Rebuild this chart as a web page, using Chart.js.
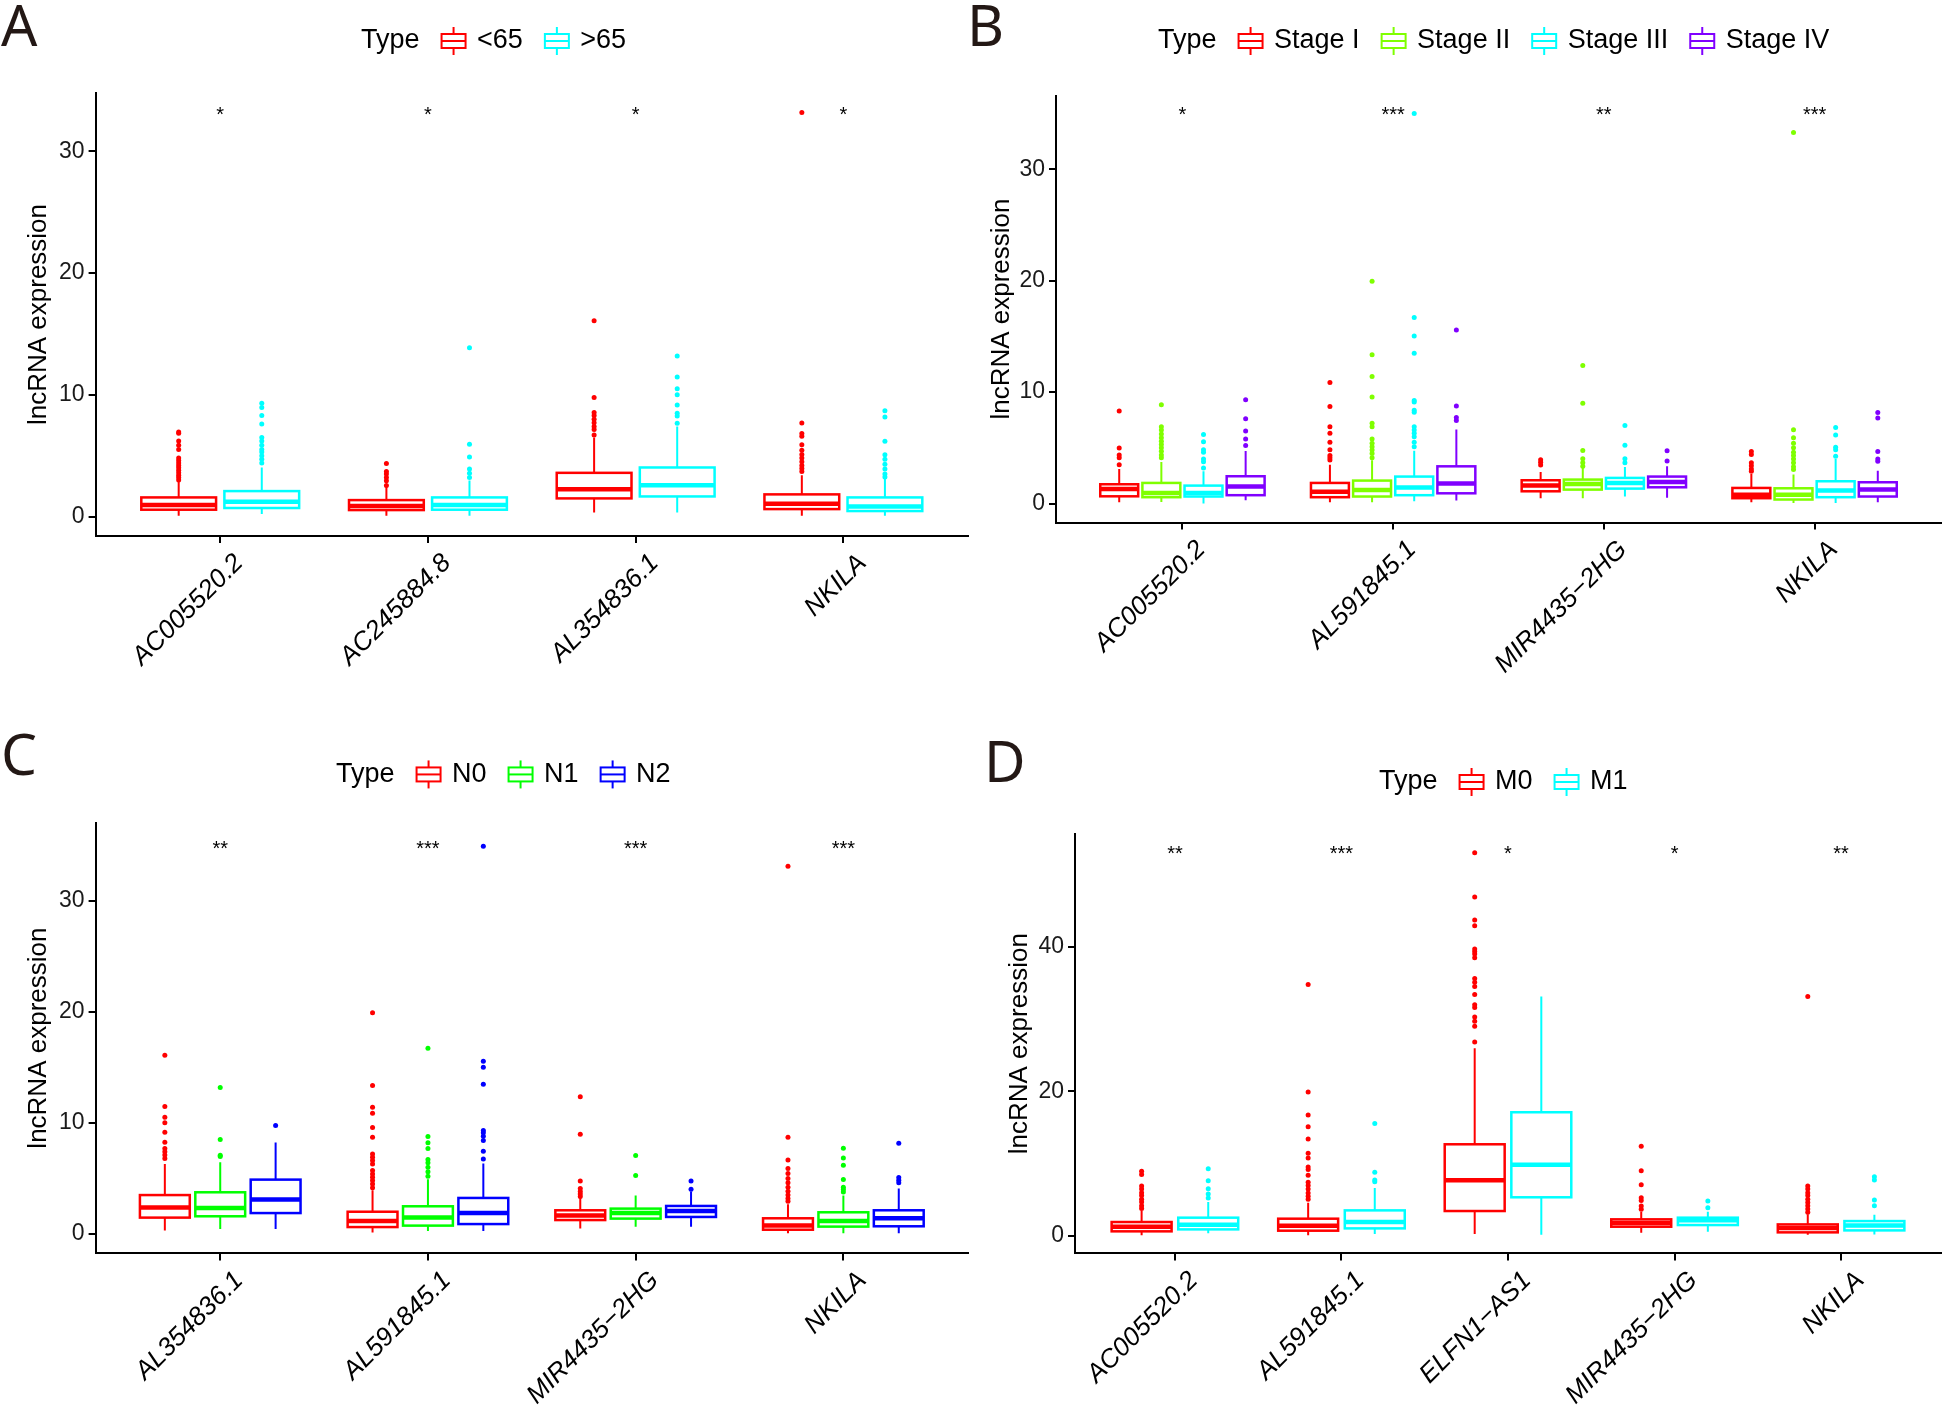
<!DOCTYPE html>
<html>
<head>
<meta charset="utf-8">
<title>lncRNA expression by clinical group</title>
<script src="https://cdn.jsdelivr.net/npm/chart.js@4.4.1/dist/chart.umd.min.js"></script>
<style>
  html, body { margin: 0; padding: 0; background: #fff; }
  #page { position: relative; width: 1946px; height: 1407px; overflow: hidden; }
  .panel { position: absolute; }
  .tag { position: absolute; font-family: 'Noto Sans', sans-serif; font-size: 57px; line-height: 1; color: #231815; }
</style>
</head>
<body>
<div id="page">
  <div class="panel" style="left:0px;top:0px;width:973px;height:703px"><canvas id="chartA"></canvas></div>
  <div class="panel" style="left:973px;top:0px;width:973px;height:703px"><canvas id="chartB"></canvas></div>
  <div class="panel" style="left:0px;top:703px;width:973px;height:704px"><canvas id="chartC"></canvas></div>
  <div class="panel" style="left:973px;top:703px;width:973px;height:704px"><canvas id="chartD"></canvas></div>
  <div class="tag" style="left:1px;top:-4px">A</div>
  <div class="tag" style="left:967px;top:-4px">B</div>
  <div class="tag" style="left:1px;top:725px">C</div>
  <div class="tag" style="left:984px;top:732px">D</div>
</div>
<script>
// === Panel A: age ===
const genesA = ['AC005520.2', 'AC245884.8', 'AL354836.1', 'NKILA'];
const groupsA = ['<65', '>65'];
// per group, per gene: [lower whisker, Q1, median, Q3, upper whisker]
const boxesA = [
  [[0.07, 0.56, 0.94, 1.57, 2.88], [0.07, 0.53, 0.86, 1.35, 2.44], [0.34, 1.49, 2.25, 3.59, 6.49], [0.07, 0.61, 1.05, 1.82, 3.40]],
  [[0.20, 0.70, 1.21, 2.09, 4.03], [0.07, 0.56, 0.94, 1.57, 2.97], [0.34, 1.65, 2.58, 4.03, 7.39], [0.07, 0.45, 0.83, 1.57, 3.13]]
];
const outliersA = [
  [[6.95, 6.85, 6.2, 5.85, 5.5, 4.8, 4.6, 4.4, 4.2, 4.0, 3.8, 3.6, 3.4, 3.2, 3.0],
   [4.36, 3.7, 3.5, 3.2, 2.95, 2.55],
   [16.08, 9.77, 8.54, 8.3, 8.0, 7.7, 7.4, 7.15, 6.7],
   [33.2, 7.69, 6.82, 6.6, 5.9, 5.45, 5.1, 4.8, 4.5, 4.2, 3.95, 3.7]],
  [[9.3, 8.95, 8.3, 7.6, 6.5, 6.2, 5.86, 5.5, 5.3, 5.0, 4.7, 4.4],
   [13.87, 5.94, 4.9, 3.9, 3.55, 3.2],
   [13.2, 11.46, 10.5, 10.0, 9.17, 8.48, 8.25, 7.66],
   [8.7, 8.18, 6.19, 5.07, 4.7, 4.3, 3.9, 3.5, 3.25]]
];
const starsA = ['*', '*', '*', '*'];
const yTicksA = [0, 10, 20, 30];

// === Panel B: stage ===
const genesB = ['AC005520.2', 'AL591845.1', 'MIR4435\u22122HG', 'NKILA'];
const groupsB = ['Stage I', 'Stage II', 'Stage III', 'Stage IV'];
const boxesB = [
  [[0.12, 0.65, 1.31, 1.73, 3.10], [0.12, 0.57, 1.05, 1.85, 3.49], [0.48, 1.10, 1.61, 2.09, 2.84], [0.12, 0.48, 0.80, 1.40, 2.66]],
  [[0.15, 0.57, 0.95, 1.85, 3.73], [0.12, 0.63, 1.22, 2.06, 3.88], [0.48, 1.25, 1.76, 2.15, 3.22], [0.06, 0.36, 0.80, 1.37, 2.60]],
  [[0.00, 0.63, 0.95, 1.61, 2.90], [0.20, 0.75, 1.43, 2.42, 4.74], [0.63, 1.34, 1.85, 2.30, 3.28], [0.06, 0.57, 1.16, 2.00, 4.00]],
  [[0.30, 0.75, 1.52, 2.45, 4.71], [0.27, 0.92, 1.79, 3.34, 6.65], [0.51, 1.46, 1.94, 2.42, 3.34], [0.12, 0.63, 1.25, 1.91, 2.95]]
];
const outliersB = [
  [[8.3, 4.98, 4.36, 4.1, 3.49],
   [10.86, 8.71, 6.9, 6.3, 5.5, 4.83, 4.3, 4.1, 3.9],
   [3.94, 3.7, 3.45],
   [4.66, 4.4, 3.65, 3.4, 3.1, 2.9]],
  [[8.86, 6.9, 6.6, 6.24, 5.9, 5.6, 5.3, 5.0, 4.7, 4.35, 4.1],
   [19.94, 13.34, 11.4, 9.55, 7.2, 6.9, 5.8, 5.4, 5.1, 4.8, 4.5, 4.1],
   [12.38, 9.0, 4.77, 4.03, 3.65, 3.35],
   [33.3, 6.62, 5.9, 5.4, 5.0, 4.6, 4.3, 4.0, 3.65, 3.3, 3.05]],
  [[6.2, 5.55, 4.83, 4.6, 4.0, 3.75, 3.2],
   [35.0, 16.7, 15.04, 13.49, 9.25, 9.1, 8.36, 8.2, 6.9, 6.6, 6.3, 6.0, 5.5, 5.1],
   [7.01, 5.22, 4.03, 3.67],
   [6.83, 6.15, 5.05, 4.83, 4.25]],
  [[9.31, 7.6, 6.5, 5.8, 5.2],
   [15.58, 8.75, 7.73, 7.45],
   [4.74, 3.82],
   [8.18, 7.67, 4.68, 4.0, 3.8]]
];
const starsB = ['*', '***', '**', '***'];
const yTicksB = [0, 10, 20, 30];

// === Panel C: N stage ===
const genesC = ['AL354836.1', 'AL591845.1', 'MIR4435\u22122HG', 'NKILA'];
const groupsC = ['N0', 'N1', 'N2'];
const boxesC = [
  [[0.32, 1.47, 2.37, 3.50, 6.30], [0.14, 0.62, 1.16, 2.00, 3.93], [0.49, 1.25, 1.67, 2.13, 3.27], [0.06, 0.38, 0.77, 1.41, 2.67]],
  [[0.44, 1.59, 2.34, 3.75, 6.45], [0.27, 0.75, 1.47, 2.49, 4.92], [0.64, 1.38, 1.89, 2.28, 3.47], [0.06, 0.66, 1.16, 1.95, 3.47]],
  [[0.44, 1.88, 3.09, 4.89, 8.22], [0.27, 0.89, 1.88, 3.24, 6.33], [0.64, 1.53, 2.07, 2.52, 3.81], [0.06, 0.69, 1.41, 2.13, 4.10]]
];
const outliersC = [
  [[16.09, 11.47, 10.5, 10.0, 9.15, 8.25, 7.7, 7.4, 7.1, 6.8],
   [19.9, 13.36, 11.4, 10.86, 9.58, 8.7, 7.2, 6.9, 6.6, 6.3, 5.7, 5.4, 5.1, 4.8, 4.5, 4.15],
   [12.34, 8.97, 4.77, 4.08, 3.83, 3.6, 3.38],
   [33.1, 8.7, 6.66, 5.9, 5.45, 5.0, 4.6, 4.2, 3.85, 3.5, 3.2, 2.95]],
  [[13.18, 8.5, 7.08, 6.97],
   [16.72, 8.76, 8.2, 7.7, 6.7, 6.4, 6.0, 5.6, 5.2],
   [7.05, 5.25],
   [7.71, 6.84, 6.18, 4.89, 4.2, 4.0, 3.78]],
  [[9.75],
   [34.9, 15.55, 15.0, 13.48, 9.3, 9.1, 8.8, 8.4, 7.45, 6.75],
   [4.77, 4.02],
   [8.16, 5.07, 4.83, 4.6]]
];
const starsC = ['**', '***', '***', '***'];
const yTicksC = [0, 10, 20, 30];

// === Panel D: M stage ===
const genesD = ['AC005520.2', 'AL591845.1', 'ELFN1\u2212AS1', 'MIR4435\u22122HG', 'NKILA'];
const groupsD = ['M0', 'M1'];
const boxesD = [
  [[0.10, 0.65, 1.29, 1.94, 3.50], [0.10, 0.74, 1.43, 2.40, 4.62], [0.28, 3.46, 7.70, 12.69, 25.98], [0.46, 1.29, 1.80, 2.31, 3.36], [0.18, 0.51, 1.10, 1.61, 3.00]],
  [[0.38, 0.92, 1.57, 2.54, 4.70], [0.29, 1.06, 1.94, 3.55, 6.64], [0.18, 5.36, 9.87, 17.12, 33.12], [0.60, 1.52, 2.20, 2.54, 3.36], [0.20, 0.78, 1.47, 2.07, 2.95]]
];
const outliersD = [
  [[8.95, 8.5, 6.92, 6.5, 6.0, 5.6, 5.1, 4.7, 4.2, 3.8],
   [34.8, 19.93, 16.75, 15.1, 13.43, 11.45, 10.8, 9.56, 9.2, 8.4, 7.45, 7.0, 6.5, 5.95, 5.5, 5.1],
   [53.0, 46.9, 43.7, 42.9, 39.7, 39.35, 39.0, 38.5, 35.6, 35.1, 34.5, 33.4, 32.0, 31.6, 30.3, 29.7, 29.0, 26.85],
   [12.42, 9.04, 7.1, 5.3, 4.9, 4.15, 3.7],
   [33.12, 6.92, 6.5, 6.0, 5.6, 5.1, 4.65, 4.2, 3.75, 3.3]],
  [[9.32, 7.66, 6.55, 5.8, 5.25],
   [15.55, 8.82, 7.76, 7.5],
   [],
   [4.84, 3.9],
   [8.2, 7.76, 5.0, 4.2]]
];
const starsD = ['**', '***', '*', '*', '**'];
const yTicksD = [0, 20, 40];

// === Chart setup ===
Chart.defaults.font.family = "'Liberation Sans', Arial, sans-serif";
Chart.defaults.color = '#000';

const DODGE = 0.8;      // total width taken by the boxes of one gene
const BOX_FILL = 0.9;   // share of each dodge slot used by the box
const LEGEND_FONT = 27;
const KEY_SLOT = 20;    // legend box width reserved by Chart.js (the key image is a bit wider)
const LEGEND_PAD = 24;

// legend key drawn like a small boxplot
function makeKey(color) {
  const c = document.createElement('canvas');
  c.width = 30;
  c.height = 30;
  const k = c.getContext('2d');
  if (color) {
    k.strokeStyle = color;
    k.lineWidth = 2;
    k.beginPath();
    k.moveTo(15, 1); k.lineTo(15, 8);
    k.moveTo(15, 22); k.lineTo(15, 29);
    k.moveTo(3, 15); k.lineTo(27, 15);
    k.stroke();
    k.strokeRect(3, 8, 24, 14);
  }
  return c;
}

// boxes, whiskers and medians, drawn under the outlier points
const boxPlugin = {
  id: 'boxes',
  beforeDatasetsDraw(chart, args, opts) {
    const { ctx, scales: { x, y } } = chart;
    const n = opts.stats.length;
    const slot = DODGE / n;
    const half = (x.getPixelForValue(slot * BOX_FILL) - x.getPixelForValue(0)) / 2;
    ctx.save();
    opts.stats.forEach((series, g) => {
      series.forEach((s, i) => {
        const xc = x.getPixelForValue(i + 1 + (g - (n - 1) / 2) * slot);
        const [lo, q1, med, q3, hi] = s.map(v => y.getPixelForValue(v));
        ctx.strokeStyle = opts.colors[g];
        ctx.lineWidth = 2;
        ctx.beginPath();
        ctx.moveTo(xc, hi); ctx.lineTo(xc, q3);
        ctx.moveTo(xc, q1); ctx.lineTo(xc, lo);
        ctx.stroke();
        ctx.fillStyle = '#fff';
        ctx.fillRect(xc - half, q3, half * 2, q1 - q3);
        ctx.lineWidth = 2.5;
        ctx.strokeRect(xc - half, q3, half * 2, q1 - q3);
        ctx.lineWidth = 4.5;
        ctx.beginPath();
        ctx.moveTo(xc - half, med); ctx.lineTo(xc + half, med);
        ctx.stroke();
      });
    });
    ctx.restore();
  },
  afterDatasetsDraw(chart, args, opts) {
    const { ctx, scales: { x, y } } = chart;
    ctx.save();
    ctx.fillStyle = '#000';
    ctx.font = "20px 'Liberation Sans', Arial, sans-serif";
    ctx.textAlign = 'center';
    ctx.textBaseline = 'alphabetic';
    opts.stars.forEach((s, i) => {
      ctx.fillText(s, x.getPixelForValue(i + 1), y.getPixelForValue(opts.starY) + 11);
    });
    ctx.restore();
  }
};

// puts the legend row where ggplot had it (beside the panel letter)
const legendPlace = {
  id: 'legendPlace',
  afterLayout(chart, args, opts) {
    const lg = chart.legend;
    if (!lg || !lg.lineWidths) return;
    const startX = (lg.left + LEGEND_PAD + lg.right - lg.lineWidths[0]) / 2;
    const dx = opts.x - (startX + KEY_SLOT + LEGEND_FONT / 2);
    const dy = opts.y - (lg.top + LEGEND_PAD + LEGEND_FONT / 2);
    lg.left += dx; lg.right += dx;
    lg.top += dy; lg.bottom += dy;
  }
};

function drawPanel(id, genes, groups, colors, stats, outliers, stars, yTicks, cfg) {
  const n = groups.length;
  const slot = DODGE / n;
  const datasets = groups.map((name, g) => ({
    label: name,
    data: outliers[g].flatMap((vals, i) => vals.map(v => ({ x: i + 1 + (g - (n - 1) / 2) * slot, y: v }))),
    backgroundColor: colors[g],
    borderWidth: 0,
    pointRadius: 2.5,
    pointHoverRadius: 3
  }));

  new Chart(document.getElementById(id), {
    type: 'scatter',
    data: { datasets: datasets },
    plugins: [boxPlugin, legendPlace],
    options: {
      responsive: true,
      maintainAspectRatio: false,
      animation: false,
      layout: { padding: { left: cfg.padLeft, right: 5, top: cfg.padTop, bottom: 0 } },
      plugins: {
        tooltip: { enabled: false },
        boxes: { stats: stats, colors: colors, stars: stars, starY: cfg.starY },
        legendPlace: { x: cfg.legendX, y: cfg.legendY },
        legend: {
          position: 'top',
          onClick: null,
          labels: {
            usePointStyle: true,
            pointStyleWidth: KEY_SLOT,
            padding: LEGEND_PAD,
            color: '#000',
            font: { size: LEGEND_FONT },
            generateLabels: chart => [
              { text: 'Type', pointStyle: makeKey(null), lineWidth: 0, hidden: false }
            ].concat(chart.data.datasets.map((ds, i) => ({
              text: ds.label,
              pointStyle: makeKey(ds.backgroundColor),
              lineWidth: 0,
              hidden: false,
              datasetIndex: i
            })))
          }
        }
      },
      scales: {
        x: {
          type: 'linear',
          min: 0.4,
          max: genes.length + 0.6,
          afterBuildTicks: s => { s.ticks = genes.map((g, i) => ({ value: i + 1 })); },
          afterFit: s => { s.height = cfg.xAxisHeight; s.paddingLeft = 0; s.paddingRight = 0; },
          ticks: {
            autoSkip: false,
            minRotation: 45,
            maxRotation: 45,
            padding: 5,
            labelOffset: 19,
            color: '#000',
            font: { size: 26, style: 'italic' },
            callback: v => genes[Math.round(v) - 1]
          },
          grid: { display: true, drawOnChartArea: false, tickLength: 7, color: '#000', lineWidth: 2 },
          border: { display: true, color: '#000', width: 2 }
        },
        y: {
          min: cfg.yMin,
          max: cfg.yMax,
          afterBuildTicks: s => { s.ticks = yTicks.map(v => ({ value: v })); },
          afterFit: s => { s.width = cfg.yAxisWidth; s.paddingTop = 0; s.paddingBottom = 0; },
          ticks: { padding: 4, color: '#1a1a1a', font: { size: 23 } },
          grid: { display: true, drawOnChartArea: false, tickLength: 7, color: '#000', lineWidth: 2 },
          border: { display: true, color: '#000', width: 2 },
          title: { display: true, text: 'lncRNA expression', color: '#000', font: { size: 26 }, padding: 0 }
        }
      }
    }
  });
}

drawPanel('chartA', genesA, groupsA, ['#FF0000', '#00FFFF'], boxesA, outliersA, starsA, yTicksA,
  { yMin: -1.6, yMax: 34.8, starY: 33.4, padLeft: 23, yAxisWidth: 72.6, padTop: 32, xAxisHeight: 167, legendX: 361, legendY: 41 });

drawPanel('chartB', genesB, groupsB, ['#FF0000', '#7FFF00', '#00FFFF', '#8000FF'], boxesB, outliersB, starsB, yTicksB,
  { yMin: -1.7, yMax: 36.6, starY: 35.3, padLeft: 12.9, yAxisWidth: 70.1, padTop: 34.6, xAxisHeight: 180.5, legendX: 185, legendY: 41 });

drawPanel('chartC', genesC, groupsC, ['#FF0000', '#00FF00', '#0000FF'], boxesC, outliersC, starsC, yTicksC,
  { yMin: -1.75, yMax: 37.0, starY: 35.1, padLeft: 23, yAxisWidth: 72.6, padTop: 58.8, xAxisHeight: 153.6, legendX: 336, legendY: 71.4 });

drawPanel('chartD', genesD, groupsD, ['#FF0000', '#00FFFF'], boxesD, outliersD, starsD, yTicksD,
  { yMin: -2.4, yMax: 55.6, starY: 53.5, padLeft: 30.9, yAxisWidth: 71.1, padTop: 70, xAxisHeight: 153.6, legendX: 406, legendY: 79 });
</script>
</body>
</html>
